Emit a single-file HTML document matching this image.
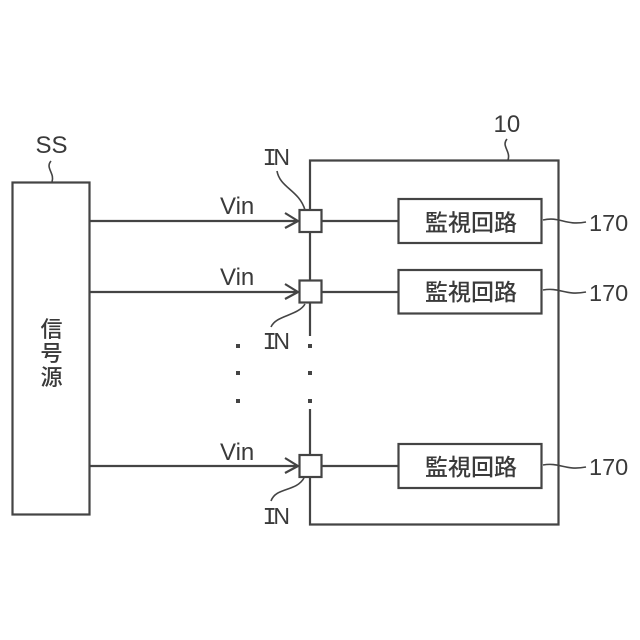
<!DOCTYPE html>
<html>
<head>
<meta charset="utf-8">
<style>
html,body{margin:0;padding:0;background:#fff;width:640px;height:640px;overflow:hidden}
svg{display:block}
text{fill:#3a3a3a;font-family:"Liberation Sans","Noto Sans CJK JP",sans-serif}
.l{fill:none;stroke:#444;stroke-width:2.2}
.t{fill:none;stroke:#444;stroke-width:1.6}
text.cjk{font-size:23px;font-family:"Noto Sans CJK JP",sans-serif;font-weight:500}
text.cjv{font-size:22px;font-family:"Noto Sans CJK JP",sans-serif;font-weight:500}
text.n{font-size:24px}
text.in{font-size:23px}
.i{font-family:"Liberation Mono",monospace;font-size:24px}
</style>
</head>
<body>
<svg width="640" height="640" viewBox="0 0 640 640" xmlns="http://www.w3.org/2000/svg">
<rect width="640" height="640" fill="#fff"/>
<!-- outer box -->
<path class="l" d="M310 210V160.500H558.500V524.500H310V477"/>
<path class="l" d="M310 232V280M310 303V336M310 409V455"/>
<!-- signal source -->
<rect class="l" x="12.500" y="182.500" width="77" height="332"/>
<!-- input lines -->
<path class="l" d="M90 221H298M285 213L298 221L285 228"/>
<path class="l" d="M90 292H298M285 284L298 292L285 299"/>
<path class="l" d="M90 466H298M285 458L298 466L285 473"/>
<!-- IN squares -->
<rect class="l" x="299.500" y="210" width="22" height="22" fill="#fff"/>
<rect class="l" x="299.500" y="280.500" width="22" height="22" fill="#fff"/>
<rect class="l" x="299.500" y="455" width="22" height="22" fill="#fff"/>
<!-- to monitors -->
<path class="l" d="M322 221H398M322 292H398M322 466H398"/>
<rect class="l" x="398.500" y="199" width="143" height="44"/>
<rect class="l" x="398.500" y="270" width="143" height="43.500"/>
<rect class="l" x="398.500" y="444" width="143" height="44"/>
<!-- dots -->
<g fill="#444">
<rect x="236" y="344" width="4" height="4"/><rect x="236" y="371" width="4" height="4"/><rect x="236" y="399" width="4" height="4"/>
<rect x="308" y="344" width="4" height="4"/><rect x="308" y="371" width="4" height="4"/><rect x="308" y="399" width="4" height="4"/>
</g>
<!-- leaders -->
<path class="t" d="M277 171C280 188 299 190 305 210"/>
<path class="t" d="M305 304C298 316 276 315 271 327"/>
<path class="t" d="M304 478C296 492 276 487 271 501"/>
<path class="t" d="M51 161C45 168 55 173 52 182"/>
<path class="t" d="M507 139C501 146 511 151 508 160"/>
<path class="t" d="M543 220C560 216 565 226 586 222"/>
<path class="t" d="M543 290C560 287 565 296 586 292"/>
<path class="t" d="M543 465C560 462 565 471 586 467"/>
<!-- labels -->
<text x="35.500" y="153" class="n">SS</text>
<text x="493.500" y="132" class="n">10</text>
<text x="262.500" y="165" class="in"><tspan class="i">I</tspan><tspan dx="-3.500">N</tspan></text>
<text x="262.500" y="349" class="in"><tspan class="i">I</tspan><tspan dx="-3.500">N</tspan></text>
<text x="262.500" y="524" class="in"><tspan class="i">I</tspan><tspan dx="-3.500">N</tspan></text>
<text x="220" y="214" class="n">Vin</text>
<text x="220" y="285" class="n">Vin</text>
<text x="220" y="460" class="n">Vin</text>
<text x="589" y="231" class="n" style="font-size:23.500px">170</text>
<text x="589" y="301" class="n" style="font-size:23.500px">170</text>
<text x="589" y="475" class="n" style="font-size:23.500px">170</text>
<text x="425" y="230.500" class="cjk">監視回路</text>
<text x="425" y="300" class="cjk">監視回路</text>
<text x="425" y="475" class="cjk">監視回路</text>
<text x="40.500" y="337" class="cjv">信</text>
<text x="40.500" y="361" class="cjv">号</text>
<text x="40.500" y="385" class="cjv">源</text>
</svg>
</body>
</html>
